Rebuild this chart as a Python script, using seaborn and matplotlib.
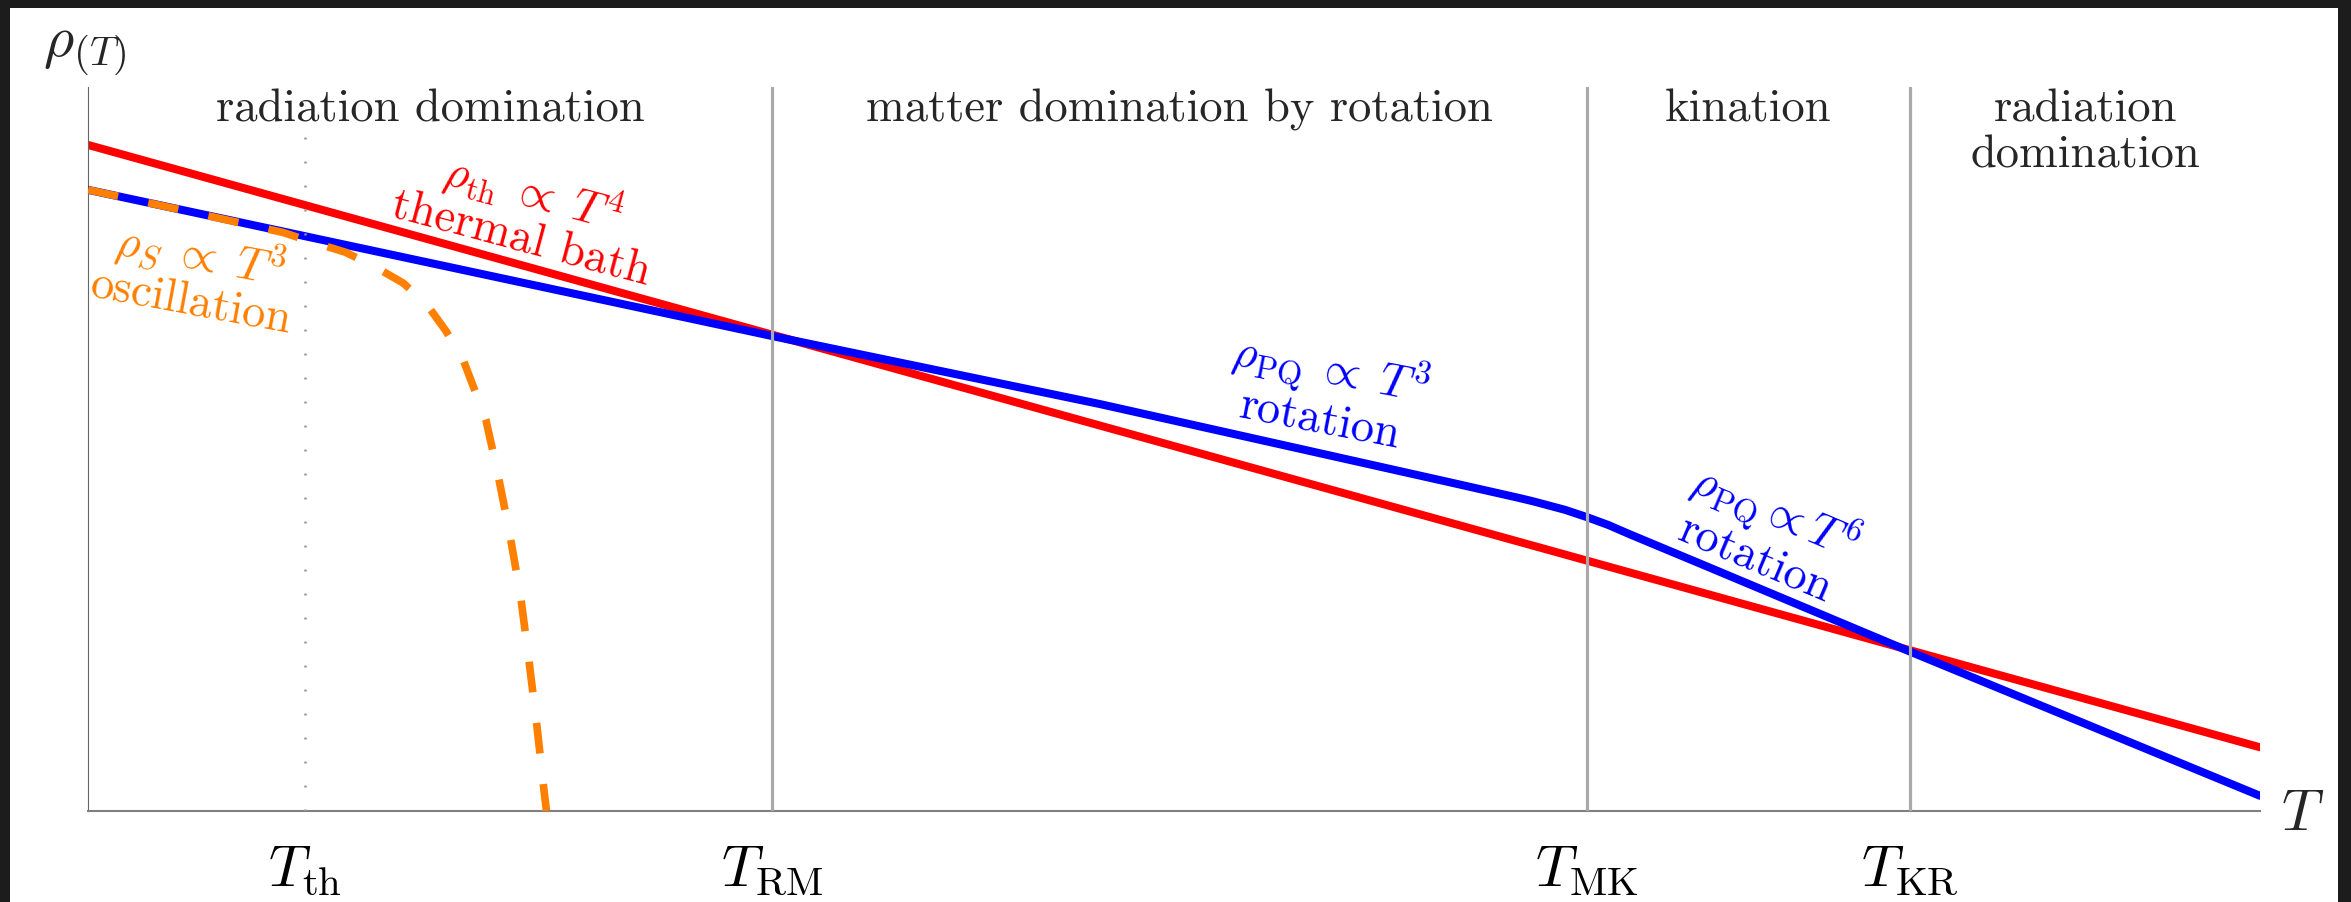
import matplotlib
matplotlib.use("Agg")
import matplotlib.pyplot as plt
import seaborn as sns
from matplotlib.patches import Rectangle

# ---- data (x: log-temperature in arbitrary units, y: log energy density) ----
x_thermal = [0.0, 100.0]
y_thermal = [92.0, 8.8]

x_pq = [0.0, 31.5, 46.6, 62.7, 65.8, 66.5, 68.0, 69.0, 70.0, 71.0, 74.2, 83.9, 100.0]
y_pq = [85.8, 65.6, 56.2, 45.4, 43.3, 42.8, 41.6, 40.6, 39.5, 38.2, 34.2, 22.0, 2.1]

x_osc = [0.0, 4.8, 8.99, 10.30, 11.83, 13.14, 14.52, 15.59, 16.48, 17.25, 17.77,
         18.32, 18.82, 19.41, 19.92, 20.31, 20.67, 21.00, 21.11]
y_osc = [85.8, 82.7, 79.9, 78.6, 77.2, 75.3, 72.9, 70.0, 66.3, 62.5, 58.4,
         54.0, 47.3, 38.4, 29.6, 20.6, 11.7, 2.7, 0.0]

t_th = 10.0
era_bounds = [31.5, 69.0, 83.9]
tick_pos = [10.0, 31.5, 69.0, 83.9]
tick_labels = [r"$T_{\mathrm{th}}$", r"$T_{\mathrm{RM}}$", r"$T_{\mathrm{MK}}$", r"$T_{\mathrm{KR}}$"]
era_labels = ["radiation domination", "matter domination by rotation", "kination",
              "radiation\ndomination"]

RED, BLUE, ORANGE = "#ff0000", "#0000ff", "#ff8000"

sns.set_theme(style="white")
plt.rcParams.update({
    "font.family": ["cmr10", "DejaVu Sans"],
    "mathtext.fontset": "cm",
    "axes.formatter.use_mathtext": True,
})

W, H = 2351, 902
fig = plt.figure(figsize=(W / 100, H / 100), dpi=100, facecolor="#1c1c1c")
fig.patches.append(Rectangle((10 / W, 0), (2338 - 10) / W, 1 - 8 / H,
                             transform=fig.transFigure, facecolor="white",
                             edgecolor="none", zorder=-5))

ax = fig.add_axes([88 / W, (H - 811) / H, (2260 - 88) / W, (811 - 87) / H])
ax.set_facecolor("white")

sns.lineplot(x=x_thermal, y=y_thermal, ax=ax, color=RED, linewidth=5.8, zorder=2)
sns.lineplot(x=x_pq, y=y_pq, ax=ax, color=BLUE, linewidth=5.8, zorder=3)
sns.lineplot(x=x_osc, y=y_osc, ax=ax, color=ORANGE, linewidth=5.5, zorder=4)
ax.lines[-1].set_dashes((4.03, 4.03))
ax.lines[-1].set_dash_capstyle("butt")
ax.lines[-1].set_dash_joinstyle("round")
for ln in ax.lines:
    ln.set_solid_joinstyle("round")

ax.set_xlim(0, 100)
ax.set_ylim(0, 100)

# era boundaries and thermalisation temperature
for xb in era_bounds:
    ax.axvline(xb, color="#aaaaaa", linewidth=2.3, zorder=5)
ax.plot([t_th, t_th], [0, 93.8], color="#999999", linewidth=1.8,
        dashes=(0.8, 8.8), zorder=5)

# era names along the top
edges = [0.0] + era_bounds + [100.0]
for lo, hi, name in zip(edges[:-1], edges[1:], era_labels):
    ax.text((lo + hi) / 2, 0.998, name, transform=ax.get_xaxis_transform(),
            ha="center", va="top", fontsize=33.5, linespacing=1.15, zorder=6)

# curve annotations
ax.text(20.25, 82.6, "$\\rho_{\\mathrm{th}}\\;\\propto\\;T^4$\nthermal bath", color=RED,
        fontsize=33.5, rotation=-15, rotation_mode="anchor", ha="center", va="center",
        multialignment="center", linespacing=1.0, zorder=6)
ax.text(5.0, 73.8, "$\\rho_S\\;\\propto\\;T^3$\noscillation", color=ORANGE,
        fontsize=33.5, rotation=-10.5, rotation_mode="anchor", ha="center", va="center",
        multialignment="center", linespacing=1.0, zorder=6)
ax.text(57.0, 57.9, "$\\rho_{\\mathrm{PQ}}\\;\\propto\\;T^3$\nrotation", color=BLUE,
        fontsize=33.5, rotation=-11, rotation_mode="anchor", ha="center", va="center",
        multialignment="center", linespacing=1.0, zorder=6)
ax.text(77.3, 38.5, "$\\rho_{\\mathrm{PQ}}\\propto T^6$\nrotation", color=BLUE,
        fontsize=33.5, rotation=-23, rotation_mode="anchor", ha="center", va="center",
        multialignment="center", linespacing=1.0, zorder=6)

# axes styling
sns.despine(ax=ax, top=True, right=True)
ax.spines["left"].set_color("#666666")
ax.spines["left"].set_linewidth(0.8)
ax.spines["bottom"].set_color("#808080")
ax.spines["bottom"].set_linewidth(1.5)
ax.set_yticks([])
ax.set_xticks(tick_pos, tick_labels)
ax.tick_params(axis="x", length=0, pad=24, labelsize=42, colors="black")

ax.set_xlabel(r"$T$", fontsize=42, ha="center", va="center")
ax.xaxis.set_label_coords((2303 - 88) / 2172, (811 - 815) / 724)
ax.set_ylabel(r"$\rho_{(T)}$", fontsize=42, rotation=0, ha="left", va="top")
ax.yaxis.set_label_coords((43 - 88) / 2172, (811 - 27) / 724)

fig.savefig("out.png", dpi=100, facecolor=fig.get_facecolor())
